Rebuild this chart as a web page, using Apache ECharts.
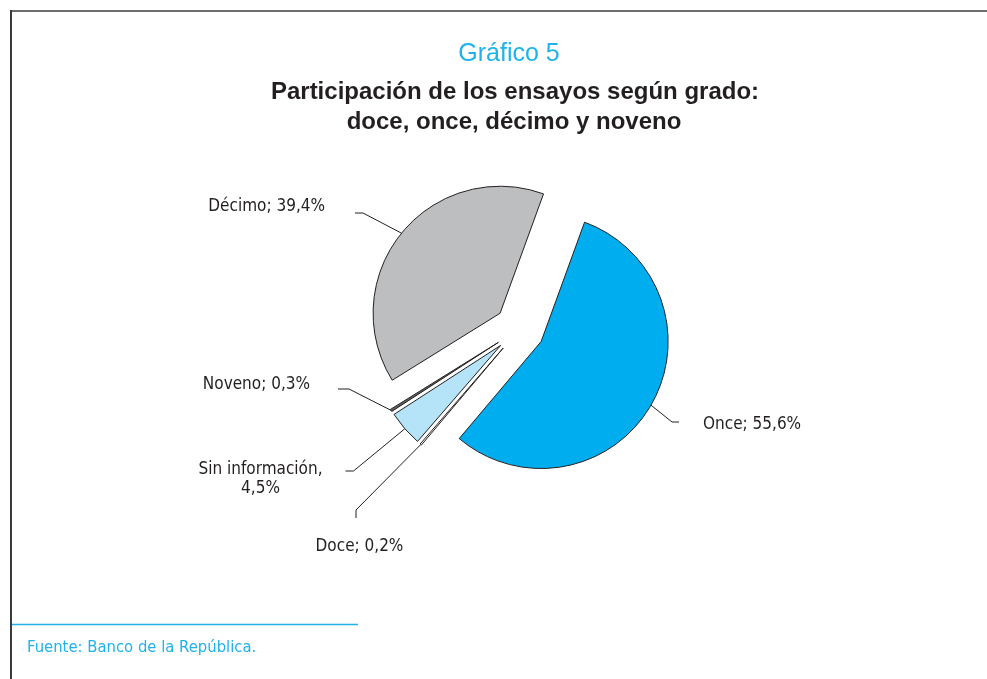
<!DOCTYPE html>
<html>
<head>
<meta charset="utf-8">
<script src="https://cdn.jsdelivr.net/npm/echarts@6/dist/echarts.min.js"></script>
<style>
  html, body { margin: 0; padding: 0; background: #fff; }
  #chart { width: 987px; height: 679px; }
</style>
</head>
<body>
<div id="chart"></div>
<script>
// shares by grade, clockwise from the top edge of "Once"
const categories = ['Once', 'Doce', 'Sin información', 'Noveno', 'Décimo']
const shares = [55.6, 0.2, 4.5, 0.3, 39.4]
const labelTexts = ['Once; 55,6%', 'Doce; 0,2%', 'Sin información,\n4,5%', 'Noveno; 0,3%', 'Décimo; 39,4%']
const sliceColors = ['#00aeef', '#ffffff', '#b5e4f8', '#5e5f61', '#bcbec0']

const narrow = "'Liberation Sans Narrow', 'DejaVu Sans Condensed', sans-serif"
const helv = "'Liberation Sans', Arial, sans-serif"
const blue = '#1fb3ea'
const ink = '#231f20'

// label boxes (top anchored): padding makes the gap between leader line and text
const labelSpots = [
  { x: 679, y: 409.5, align: 'left', padding: [6, 0, 0, 24], tail: 7 },
  { x: 356, y: 518, align: 'center', padding: [19.5, 0, 10, 7], tail: 8 },
  { x: 272, y: 443.5, align: 'center', padding: [17, 23, 0, 0], tail: 8 },
  { x: 338, y: 375.5, align: 'right', padding: [0, 28, 8, 0], tail: 11 },
  { x: 355, y: 197.5, align: 'right', padding: [0, 30, 12, 0], tail: 8 },
]

const pieCenter = [519.5, 329]
const pieRadius = 127
const explode = 25
const startAngle = 70

// one pie per slice, each pushed out along its own bisector (exploded pie)
const total = shares.reduce((a, b) => a + b, 0)
let cum = 0
const series = categories.map((name, i) => {
  const mid = (startAngle - 360 * (cum + shares[i] / 2) / total) * Math.PI / 180
  cum += shares[i]
  const spot = labelSpots[i]
  return {
    type: 'pie',
    silent: true,
    center: [pieCenter[0] + explode * Math.cos(mid), pieCenter[1] - explode * Math.sin(mid)],
    radius: pieRadius,
    startAngle,
    clockwise: true,
    avoidLabelOverlap: false,
    label: {
      show: true,
      position: 'outside',
      color: ink,
      fontSize: 17,
      fontFamily: narrow,
      lineHeight: 19,
      padding: spot.padding,
      formatter: (p) => labelTexts[p.dataIndex],
    },
    labelLine: { show: true, length: 20, length2: spot.tail, lineStyle: { color: ink, width: 1 } },
    labelLayout: (p) => p.dataIndex === i ? { x: spot.x, y: spot.y, align: spot.align, verticalAlign: 'top' } : {},
    data: categories.map((n, j) => j === i
      ? { name: n, value: shares[j], itemStyle: { color: sliceColors[j], borderColor: ink, borderWidth: 1 } }
      : { name: n, value: shares[j], itemStyle: { color: 'none', borderWidth: 0 }, label: { show: false }, labelLine: { show: false } }),
  }
})

const chart = echarts.init(document.getElementById('chart'))

chart.setOption({
  animation: false,
  graphic: [
    { type: 'line', shape: { x1: 10, y1: 11, x2: 987, y2: 11 }, style: { stroke: '#6d6e71', lineWidth: 2 } },
    { type: 'line', shape: { x1: 11, y1: 10, x2: 11, y2: 679 }, style: { stroke: '#3a3a3a', lineWidth: 2 } },
    { type: 'text', x: 509, y: 54, style: { text: 'Gráfico 5', fill: blue, font: '25px ' + helv, textAlign: 'center', textVerticalAlign: 'middle' } },
    { type: 'text', x: 515, y: 92, style: { text: 'Participación de los ensayos según grado:', fill: ink, font: 'bold 24px ' + helv, textAlign: 'center', textVerticalAlign: 'middle' } },
    { type: 'text', x: 514, y: 122, style: { text: 'doce, once, décimo y noveno', fill: ink, font: 'bold 24px ' + helv, textAlign: 'center', textVerticalAlign: 'middle' } },
    { type: 'line', shape: { x1: 12, y1: 624.5, x2: 358, y2: 624.5 }, style: { stroke: blue, lineWidth: 1.5 } },
    { type: 'text', x: 27, y: 648, style: { text: 'Fuente: Banco de la República.', fill: blue, font: '16.5px ' + narrow, textVerticalAlign: 'middle' } },
  ],
  series,
})
</script>
</body>
</html>
